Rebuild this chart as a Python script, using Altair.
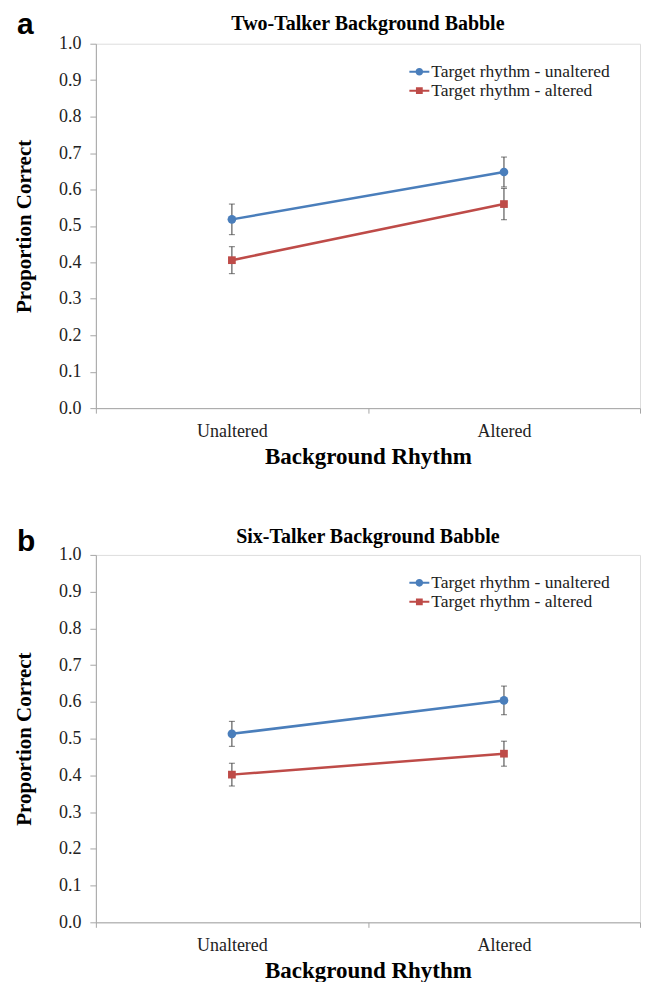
import altair as alt
import pandas as pd

# ---------------- data ----------------
conditions = ["Unaltered", "Altered"]
series_names = ["Target rhythm - unaltered", "Target rhythm - altered"]

# Panel a: Two-talker background babble
a_unaltered_mean = [0.518, 0.648]
a_unaltered_err = [0.042, 0.041]
a_altered_mean = [0.406, 0.560]
a_altered_err = [0.037, 0.043]

# Panel b: Six-talker background babble
b_unaltered_mean = [0.513, 0.604]
b_unaltered_err = [0.034, 0.039]
b_altered_mean = [0.402, 0.459]
b_altered_err = [0.031, 0.034]

y_ticks = [0.0, 0.1, 0.2, 0.3, 0.4, 0.5, 0.6, 0.7, 0.8, 0.9, 1.0]

# ---------------- style ----------------
SERIF = "Liberation Serif"
SANS = "Liberation Sans"
BLUE = "#4A7EBB"
RED = "#BE4B48"
ERR = "#3c3c3c"
AXIS_GRAY = "#a6a6a6"

CIRCLE_PATH = ("M-1,-0.1H-0.36V0.1H-1Z M0.36,-0.1H1V0.1H0.36Z "
               "M-0.38,0A0.38,0.38,0,1,1,0.38,0A0.38,0.38,0,1,1,-0.38,0Z")
SQUARE_PATH = ("M-1,-0.1H-0.34V0.1H-1Z M0.34,-0.1H1V0.1H0.34Z "
               "M-0.34,-0.34H0.34V0.34H-0.34Z")

PLOT_W = 545


def make_df(u_mean, u_err, a_mean, a_err):
    rows = []
    for name, means, errs in [(series_names[0], u_mean, u_err),
                              (series_names[1], a_mean, a_err)]:
        for c, m, e in zip(conditions, means, errs):
            rows.append({"cond": c, "series": name, "mean": m,
                         "lo": m - e, "hi": m + e})
    return pd.DataFrame(rows)


def panel(df, title, letter, height, letter_y, title_offset):
    x_enc = alt.X(
        "cond:N", sort=conditions,
        scale=alt.Scale(type="band", domain=conditions, paddingInner=0, paddingOuter=0),
        axis=alt.Axis(title="Background Rhythm", labelAngle=0, tickBand="extent",
                      domainColor=AXIS_GRAY, tickColor=AXIS_GRAY, tickSize=5,
                      labelFont=SERIF, labelFontSize=18, labelColor="#222222",
                      labelPadding=9, titleFont=SERIF, titleFontSize=23,
                      titleFontWeight="bold", titleColor="black", titlePadding=5,
                      grid=False),
    )
    y_axis = alt.Axis(title="Proportion Correct", values=y_ticks, format=".1f",
                      domainColor=AXIS_GRAY, tickColor=AXIS_GRAY, tickSize=6,
                      labelFont=SERIF, labelFontSize=18, labelColor="#222222",
                      labelPadding=9, titleFont=SERIF, titleFontSize=21,
                      titleFontWeight="bold", titleColor="black", titlePadding=24,
                      grid=False)
    y_scale = alt.Scale(domain=[0, 1], nice=False)
    color_scale = alt.Scale(domain=series_names, range=[BLUE, RED])

    base = alt.Chart(df).encode(x=x_enc)
    y_mean = alt.Y("mean:Q", scale=y_scale, axis=y_axis)

    unalt = base.transform_filter(alt.datum.series == series_names[0])
    alt_ = base.transform_filter(alt.datum.series == series_names[1])

    line_u = unalt.mark_line(strokeWidth=2.5, color=BLUE).encode(y=y_mean)
    line_a = alt_.mark_line(strokeWidth=2.5, color=RED).encode(y=y_mean)

    bars = base.mark_rule(color=ERR, strokeWidth=1).encode(
        y=alt.Y("lo:Q", scale=y_scale, axis=y_axis), y2="hi:Q")
    cap_lo = base.mark_tick(orient="horizontal", size=6, thickness=1, color=ERR).encode(
        y=alt.Y("lo:Q", scale=y_scale, axis=y_axis))
    cap_hi = base.mark_tick(orient="horizontal", size=6, thickness=1, color=ERR).encode(
        y=alt.Y("hi:Q", scale=y_scale, axis=y_axis))

    circles = unalt.mark_point(shape="circle", filled=True, size=75, opacity=1,
                               color=BLUE).encode(y=y_mean)
    squares = alt_.mark_point(shape="square", filled=True, size=60, opacity=1,
                              color=RED).encode(y=y_mean)

    leg = dict(orient="none", legendX=314, legendY=18, title=None,
               labelFont=SERIF, labelFontSize=17.5, labelColor="#222222",
               labelLimit=400, symbolSize=400, symbolStrokeWidth=0, labelOffset=2,
               rowPadding=0, padding=0, symbolOpacity=1)
    legend_layer = base.transform_filter(alt.datum.mean < 0).mark_point(
        filled=True, opacity=1).encode(
        y=y_mean,
        color=alt.Color("series:N", scale=color_scale, legend=alt.Legend(**leg)),
        shape=alt.Shape("series:N",
                        scale=alt.Scale(domain=series_names, range=[CIRCLE_PATH, SQUARE_PATH]),
                        legend=alt.Legend(**leg)),
    )

    letter_layer = alt.Chart(pd.DataFrame({"letter": [letter]})).mark_text(
        font=SANS, fontWeight="bold", fontSize=30, align="left",
        baseline="alphabetic", color="black").encode(
        text="letter:N", x=alt.value(-79), y=alt.value(letter_y))

    return alt.layer(line_u, line_a, bars, cap_lo, cap_hi, circles, squares,
                     legend_layer, letter_layer).properties(
        width=PLOT_W, height=height,
        title=alt.Title(title, font=SERIF, fontSize=20, fontWeight="bold",
                        color="black", anchor="middle", offset=title_offset),
    )


df_a = make_df(a_unaltered_mean, a_unaltered_err, a_altered_mean, a_altered_err)
df_b = make_df(b_unaltered_mean, b_unaltered_err, b_altered_mean, b_altered_err)

chart = alt.vconcat(
    panel(df_a, "Two-Talker Background Babble", "a", 365, -9.5, -24),
    panel(df_b, "Six-Talker Background Babble", "b", 368, -4, -20.5),
    spacing=57,
).resolve_scale(color="independent", shape="independent").resolve_legend(
    color="independent", shape="independent"
).properties(
    padding={"left": 5, "top": 1, "right": 0, "bottom": 0},
).configure_view(stroke=None).configure(background="white")

chart.save("out.html", embed_options={"renderer": "svg", "actions": False})
